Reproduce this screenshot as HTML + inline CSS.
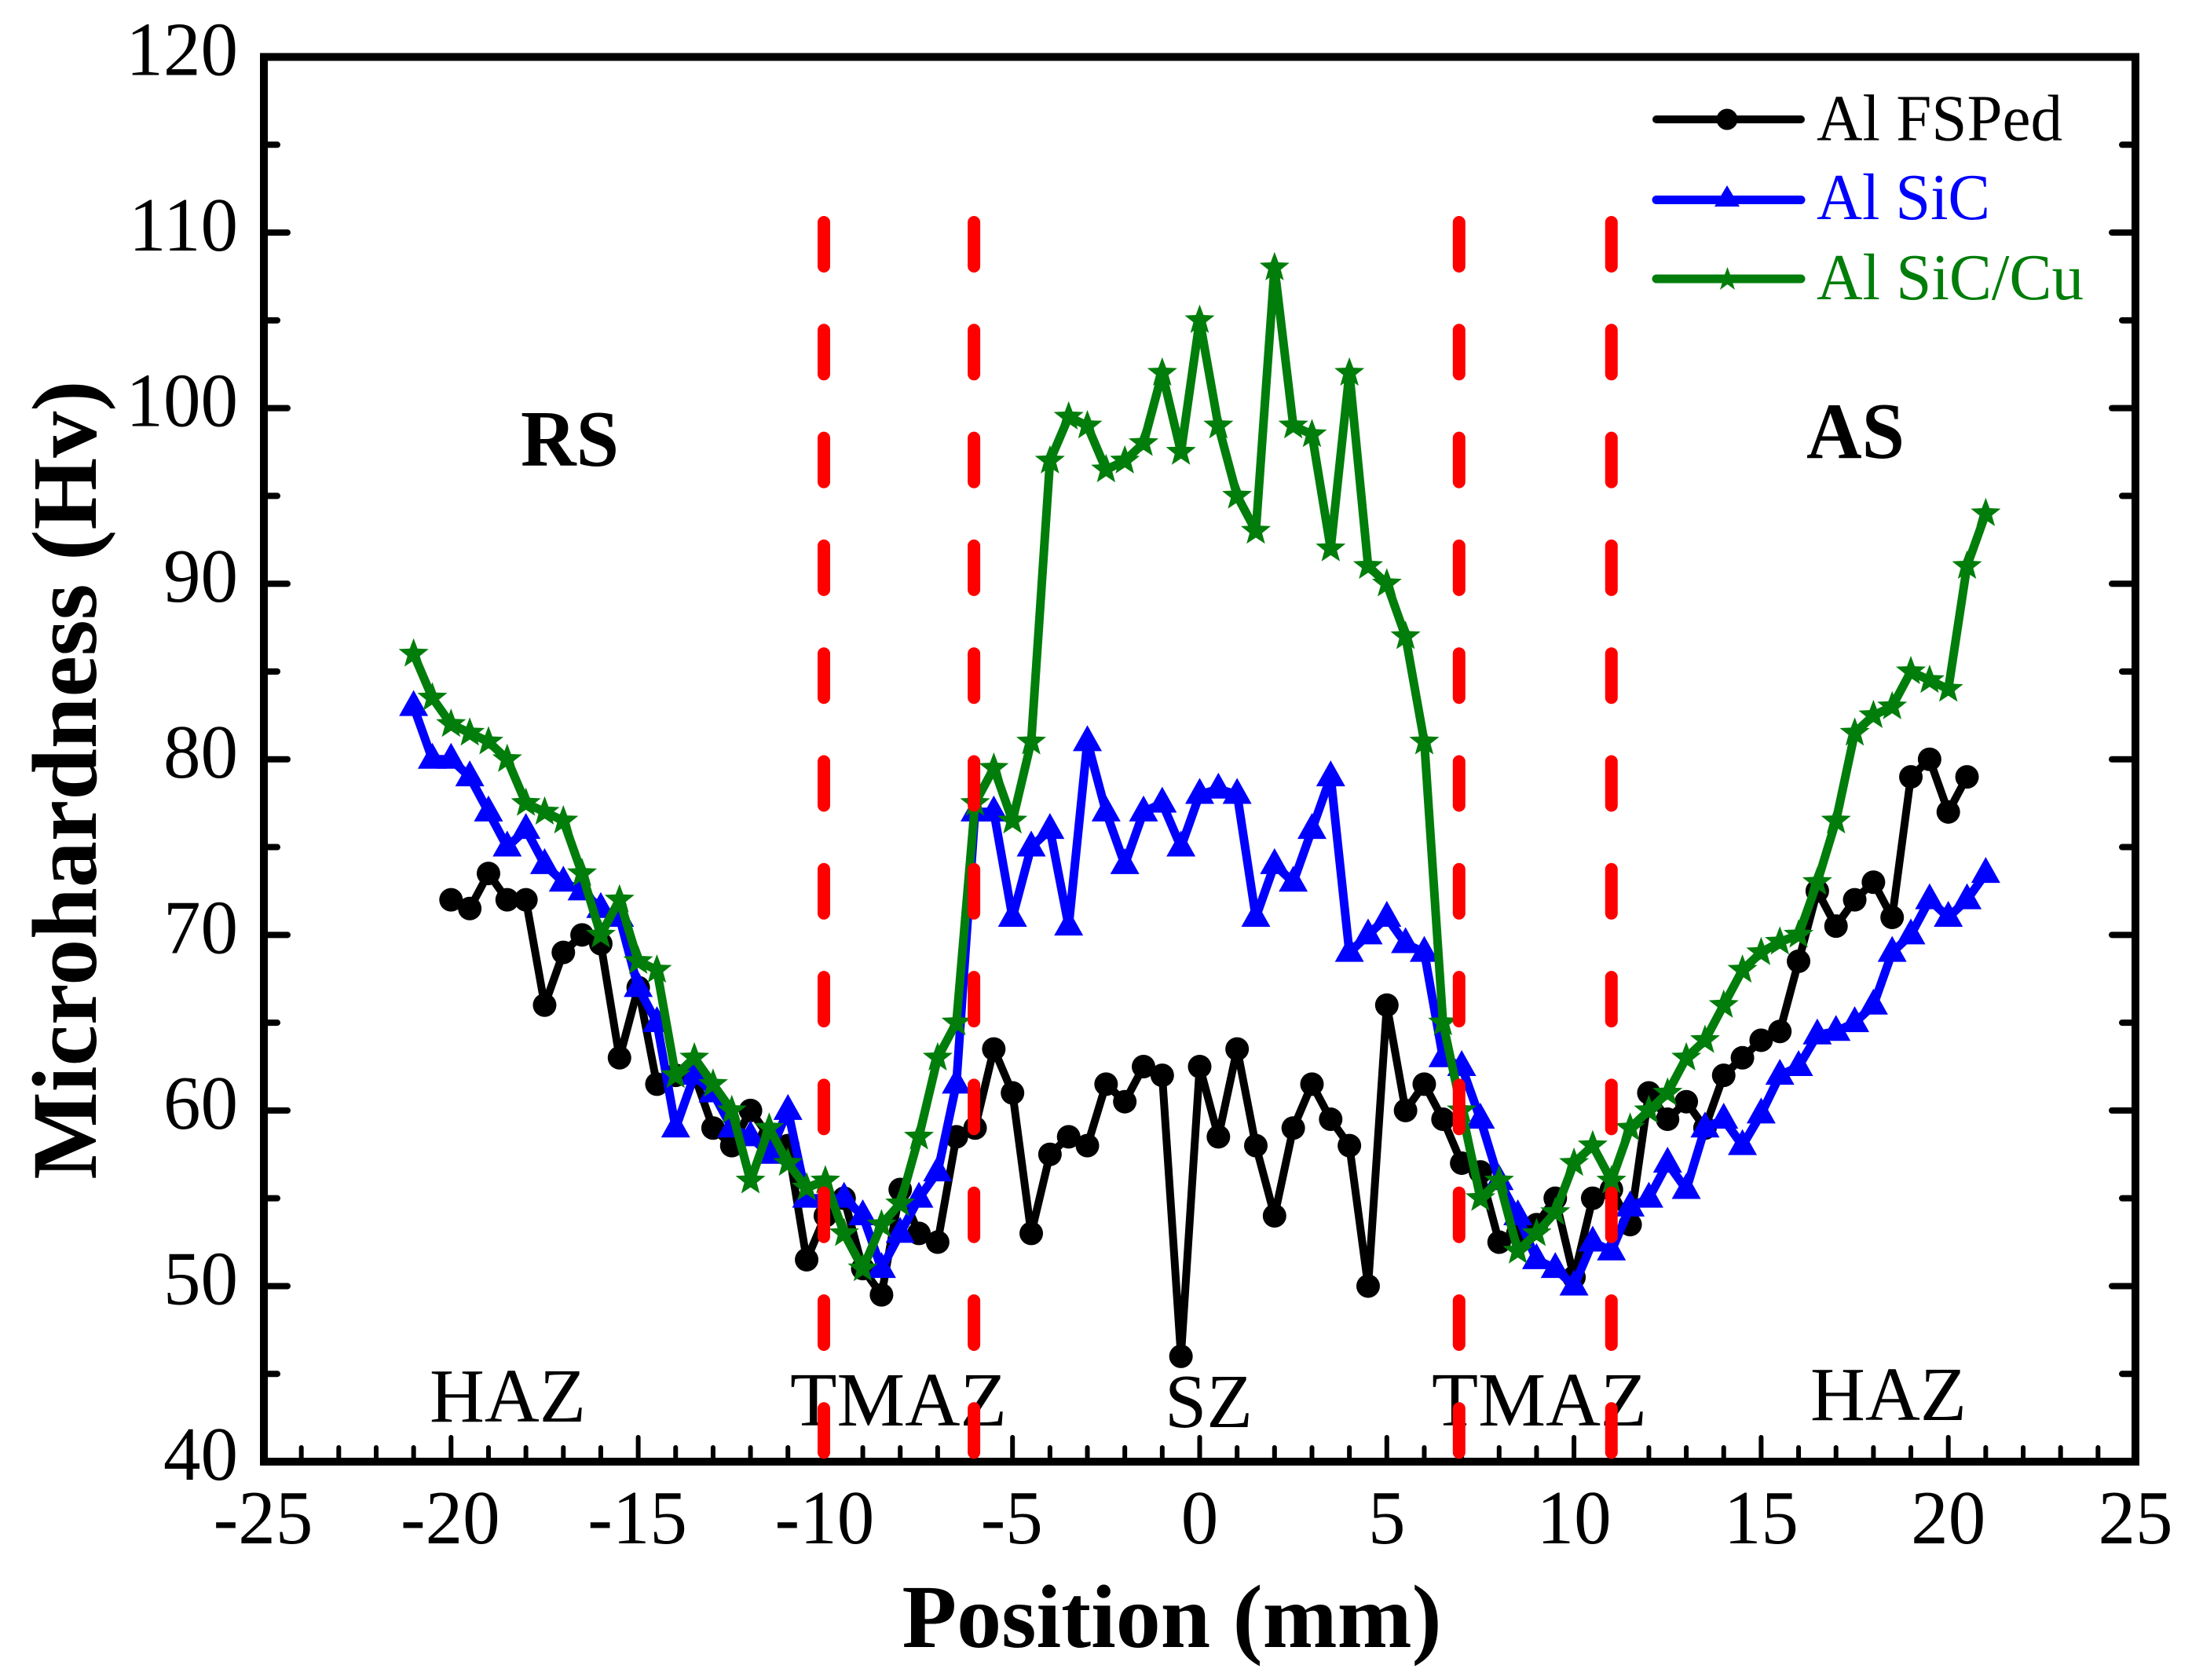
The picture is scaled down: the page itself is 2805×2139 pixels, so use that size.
<!DOCTYPE html>
<html>
<head>
<meta charset="utf-8">
<title>Microhardness vs Position</title>
<style>
html,body{margin:0;padding:0;background:#fff;}
svg{display:block;}
text{font-family:"Liberation Serif",serif;fill:#000;}
</style>
</head>
<body>
<svg id="chart" xmlns="http://www.w3.org/2000/svg" width="2805" height="2139" viewBox="0 0 2805 2139">
  <rect x="0" y="0" width="2805" height="2139" fill="#ffffff"/>
  <g id="ticks"></g>
  <rect x="336" y="72.5" width="2383" height="1788.5" fill="none" stroke="#000" stroke-width="10"/>
  <g id="tick-labels"></g>
  <text transform="translate(122,993) rotate(-90)" text-anchor="middle" font-size="118" font-weight="bold">Microhardness (Hv)</text>
  <text x="1492" y="2097" text-anchor="middle" font-size="114" font-weight="bold">Position (mm)</text>
  <text x="663" y="593" font-size="102" font-weight="bold" textLength="125" lengthAdjust="spacingAndGlyphs">RS</text>
  <text x="2300" y="583" font-size="102" font-weight="bold" textLength="125" lengthAdjust="spacingAndGlyphs">AS</text>
  <text x="547" y="1810" font-size="98" textLength="199" lengthAdjust="spacingAndGlyphs">HAZ</text>
  <text x="1006" y="1815" font-size="98" textLength="276" lengthAdjust="spacingAndGlyphs">TMAZ</text>
  <text x="1483" y="1817" font-size="98" textLength="112" lengthAdjust="spacingAndGlyphs">SZ</text>
  <text x="1823" y="1815" font-size="98" textLength="274" lengthAdjust="spacingAndGlyphs">TMAZ</text>
  <text x="2305" y="1808" font-size="98" textLength="199" lengthAdjust="spacingAndGlyphs">HAZ</text>
  <g id="series"></g>
  <g id="zones"></g>
  <g>
    <g>
      <line x1="2109" y1="152" x2="2293" y2="152" stroke="#000" stroke-width="10" stroke-linecap="round"/>
      <circle cx="2199" cy="152" r="13.5" fill="#000"/>
      <text x="2313" y="178.5" font-size="84" textLength="313" lengthAdjust="spacingAndGlyphs">Al FSPed</text>
    </g>
    <g>
      <line x1="2109" y1="254.5" x2="2293" y2="254.5" stroke="#0000ff" stroke-width="11" stroke-linecap="round"/>
      <polygon points="2199,236 2215,263 2183,263" fill="#0000ff"/>
      <text x="2313" y="279" font-size="84" style="fill:#0000ff" textLength="221" lengthAdjust="spacingAndGlyphs">Al SiC</text>
    </g>
    <g>
      <line x1="2109" y1="355" x2="2293" y2="355" stroke="#007d0a" stroke-width="11" stroke-linecap="round"/>
      <polygon points="2199.5,340 2203.5,351 2211,351 2205.5,358 2209,369 2199.5,362 2190,369 2193.5,358 2188,351 2195.5,351" fill="#007d0a"/>
      <text x="2313" y="381" font-size="84" style="fill:#007d0a" textLength="340" lengthAdjust="spacingAndGlyphs">Al SiC/Cu</text>
    </g>
  </g>
</svg>
<script>
var positions = [-21,-20.5,-20,-19.5,-19,-18.5,-18,-17.5,-17,-16.5,-16,-15.5,-15,-14.5,-14,-13.5,-13,-12.5,-12,-11.5,-11,-10.5,-10,-9.5,-9,-8.5,-8,-7.5,-7,-6.5,-6,-5.5,-5,-4.5,-4,-3.5,-3,-2.5,-2,-1.5,-1,-0.5,0,0.5,1,1.5,2,2.5,3,3.5,4,4.5,5,5.5,6,6.5,7,7.5,8,8.5,9,9.5,10,10.5,11,11.5,12,12.5,13,13.5,14,14.5,15,15.5,16,16.5,17,17.5,18,18.5,19,19.5,20,20.5,21];
var alFsped = [null,null,72,71.5,73.5,72,72,66,69,70,69.5,63,67,61.5,62,62,59,58,60,58.5,58,51.5,54,55,51,49.5,55.5,53,52.5,58.5,59,63.5,61,53,57.5,58.5,58,61.5,60.5,62.5,62,46,62.5,58.5,63.5,58,54,59,61.5,59.5,58,50,66,60,61.5,59.5,57,56.5,52.5,53,53.5,55,50.5,55,55.5,53.5,61,59.5,60.5,59,62,63,64,64.5,68.5,72.5,70.5,72,73,71,79,80,77,79,null];
var alSic = [83,80,80,79,77,75,76,74,73,72.5,71.5,71,67,65,59,62,61,59,58.5,57.5,60,55,55,55,54,51,53,55,56.5,61.5,77,77,71,75,76,70.5,81,77,74,77,77.5,75,78,78.3,78,71,74,73,76,79,69,70,71,69.5,69,63,62.5,59.5,56,54,51.5,51,50,52.5,52,54.5,55,57,55.5,59,59.5,58,59.8,62,62.5,64.3,64.5,65,66,69,70,72,71,72,73.5];
var alSicCu = [86,83.5,82,81.5,81,80,77.5,77,76.5,73.5,70,72,68.5,68,62,63,61.5,60,56,59,57,55.6,56,53,51,53.5,54.7,58.5,63,65,77.5,79.5,76.5,81,97,99.5,99,96.5,97,98,102,97.5,105,99,95,93,108,99,98.5,92,102,91,90,87,81,65,60,55,56,52,53,54.2,57,58,56,59,60,61,63,64,66,68,69,69.6,70,73,76.5,81.5,82.5,83,85,84.5,84,91,94];
var zoneBoundaries = [-10.04,-6.03,6.93,11];
var xTickLabels = [-25,-20,-15,-10,-5,0,5,10,15,20,25];
var xMinorValues = [-24,-23,-22,-21,-19,-18,-17,-16,-14,-13,-12,-11,-9,-8,-7,-6,-4,-3,-2,-1,1,2,3,4,6,7,8,9,11,12,13,14,16,17,18,19,21,22,23,24];
var yTickLabels = [40,50,60,70,80,90,100,110,120];
var yMinorValues = [45,55,65,75,85,95,105,115];

var NS = 'http://www.w3.org/2000/svg';
var LEFT = 336, RIGHT = 2719, TOP = 72.5, BOTTOM = 1861;
function xScale(v){ return LEFT + (v + 25) * (RIGHT - LEFT) / 50; }
function yScale(v){ return BOTTOM - (v - 40) * (BOTTOM - TOP) / 80; }
function make(tag, parent){
  var el = document.createElementNS(NS, tag);
  parent.appendChild(el);
  return el;
}
function setLine(el, x1, y1, x2, y2, w){
  el.setAttribute('x1', x1); el.setAttribute('y1', y1);
  el.setAttribute('x2', x2); el.setAttribute('y2', y2);
  el.setAttribute('stroke', '#000');
  el.setAttribute('stroke-width', w);
  el.setAttribute('stroke-linecap', 'round');
}

var ticksG = document.getElementById('ticks');
var labelsG = document.getElementById('tick-labels');

xTickLabels.forEach(function(v){
  var t = make('line', ticksG);
  
  
  setLine(t, xScale(v), BOTTOM, xScale(v), BOTTOM - 31, 6);
  var l = make('text', labelsG);
  
  
  l.setAttribute('transform', 'translate(' + (xScale(v) - (v < 0 ? 1 : 0)) + ',1965) scale(0.98,1)');
  l.setAttribute('text-anchor', 'middle');
  l.setAttribute('font-size', '97');
  l.textContent = String(v);
});
xMinorValues.forEach(function(v){
  var t = make('line', ticksG);
  
  
  setLine(t, xScale(v), BOTTOM, xScale(v), BOTTOM - 18, 6);
});
yTickLabels.forEach(function(v){
  var a = make('line', ticksG);
  
  
  setLine(a, LEFT, yScale(v), LEFT + 30, yScale(v), 8);
  var b = make('line', ticksG);
  
  
  setLine(b, RIGHT, yScale(v), RIGHT - 30, yScale(v), 8);
  var l = make('text', labelsG);
  
  
  l.setAttribute('transform', 'translate(303,' + (yScale(v) + 23) + ') scale(0.98,1)');
  l.setAttribute('text-anchor', 'end');
  l.setAttribute('font-size', '97');
  l.textContent = String(v);
});
yMinorValues.forEach(function(v){
  var a = make('line', ticksG);
  
  
  setLine(a, LEFT, yScale(v), LEFT + 17, yScale(v), 8);
  var b = make('line', ticksG);
  
  
  setLine(b, RIGHT, yScale(v), RIGHT - 17, yScale(v), 8);
});

function starPoints(cx, cy, R){
  var r = R * 0.42, pts = [];
  for (var i = 0; i < 10; i++){
    var rad = i % 2 ? r : R, ang = -Math.PI / 2 + i * Math.PI / 5;
    pts.push((cx + rad * Math.cos(ang)).toFixed(1) + ',' + (cy + rad * Math.sin(ang)).toFixed(1));
  }
  return pts.join(' ');
}
function linePath(values){
  var d = '', pen = false;
  values.forEach(function(v, i){
    if (v === null) { pen = false; return; }
    d += (pen ? 'L' : 'M') + xScale(positions[i]).toFixed(1) + ' ' + yScale(v).toFixed(1);
    pen = true;
  });
  return d;
}
var seriesG = document.getElementById('series');

var blackLine = make('path', seriesG);


blackLine.setAttribute('d', linePath(alFsped));
blackLine.setAttribute('fill', 'none');
blackLine.setAttribute('stroke', '#000');
blackLine.setAttribute('stroke-width', '10');
blackLine.setAttribute('stroke-linejoin', 'round');
alFsped.forEach(function(v, i){
  if (v === null) return;
  var c = make('circle', seriesG);
  
  
  c.setAttribute('cx', xScale(positions[i]));
  c.setAttribute('cy', yScale(v));
  c.setAttribute('r', '15');
  c.setAttribute('fill', '#000');
});

var blueLine = make('path', seriesG);


blueLine.setAttribute('d', linePath(alSic));
blueLine.setAttribute('fill', 'none');
blueLine.setAttribute('stroke', '#0000ff');
blueLine.setAttribute('stroke-width', '11');
blueLine.setAttribute('stroke-linejoin', 'round');
alSic.forEach(function(v, i){
  var px = xScale(positions[i]), py = yScale(v);
  var p = make('polygon', seriesG);
  
  
  p.setAttribute('points', px + ',' + (py - 21) + ' ' + (px + 18.5) + ',' + (py + 12) + ' ' + (px - 18.5) + ',' + (py + 12));
  p.setAttribute('fill', '#0000ff');
});

var greenLine = make('path', seriesG);


greenLine.setAttribute('d', linePath(alSicCu));
greenLine.setAttribute('fill', 'none');
greenLine.setAttribute('stroke', '#007d0a');
greenLine.setAttribute('stroke-width', '11');
greenLine.setAttribute('stroke-linejoin', 'round');
alSicCu.forEach(function(v, i){
  var s = make('polygon', seriesG);
  
  
  s.setAttribute('points', starPoints(xScale(positions[i]), yScale(v), 20));
  s.setAttribute('fill', '#007d0a');
});

var zonesG = document.getElementById('zones');
zoneBoundaries.forEach(function(v){
  var z = make('line', zonesG);
  
  
  z.setAttribute('x1', xScale(v));
  z.setAttribute('x2', xScale(v));
  z.setAttribute('y1', '283');
  z.setAttribute('y2', '1856');
  z.setAttribute('stroke', '#ff0000');
  z.setAttribute('stroke-width', '16');
  z.setAttribute('stroke-linecap', 'round');
  z.setAttribute('stroke-dasharray', '56 81.3');
});
</script>
</body>
</html>
